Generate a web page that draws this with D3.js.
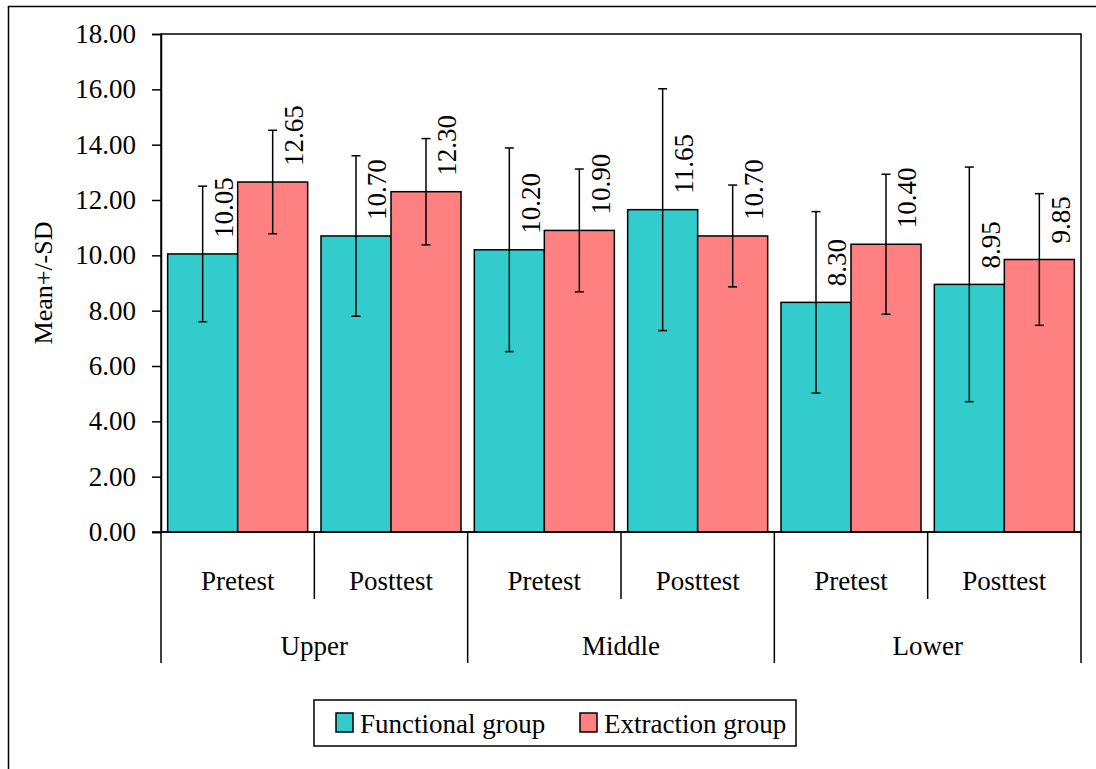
<!DOCTYPE html>
<html>
<head>
<meta charset="utf-8">
<script src="https://cdn.jsdelivr.net/npm/d3@7"></script>
<style>
  html, body { margin: 0; padding: 0; background: #fff; }
  svg { display: block; }
  svg text { font-family: "Liberation Serif", "DejaVu Serif", serif !important; fill: #000; }
</style>
</head>
<body>
<svg id="chart" width="1096" height="769"></svg>
<script>
const levels = ["Upper", "Middle", "Lower"];
const tests = ["Pretest", "Posttest"];
const seriesNames = ["Functional group", "Extraction group"];
const seriesColors = ["#33CCCC", "#FF8080"];
const functionalMean = [10.05, 10.70, 10.20, 11.65, 8.30, 8.95];
const functionalSD = [2.45, 2.90, 3.68, 4.37, 3.28, 4.24];
const extractionMean = [12.65, 12.30, 10.90, 10.70, 10.40, 9.85];
const extractionSD = [1.87, 1.92, 2.22, 1.84, 2.53, 2.38];
const yTicks = [0, 2, 4, 6, 8, 10, 12, 14, 16, 18];
const yLabel = "Mean+/-SD";

const svg = d3.select("#chart");
const plot = { left: 161, top: 34, right: 1081, bottom: 532 };
const FONT = 27;
const FF = '"Liberation Serif", "DejaVu Serif", serif';

svg.append("rect").attr("x", 8.5).attr("y", 6.5).attr("width", 1200).attr("height", 900)
  .attr("fill", "none").attr("stroke", "#000").attr("stroke-width", 1.5);

const cats = [];
levels.forEach(l => tests.forEach(t => cats.push(l + "|" + t)));

const x0 = d3.scaleBand().domain(cats).range([plot.left, plot.right]).padding(0);
const x1 = d3.scaleBand().domain(seriesNames).range([0, x0.bandwidth()]).paddingInner(0).paddingOuter(0.095);
const y = d3.scaleLinear().domain([0, 18]).range([plot.bottom, plot.top]);

svg.append("rect").attr("x", plot.left).attr("y", plot.top)
  .attr("width", plot.right - plot.left).attr("height", plot.bottom - plot.top)
  .attr("fill", "none").attr("stroke", "#000").attr("stroke-width", 1.5);

const yAxis = d3.axisLeft(y).tickValues(yTicks).tickFormat(d3.format(".2f")).tickSize(9).tickPadding(16);
const ga = svg.append("g").attr("transform", `translate(${plot.left},0)`).call(yAxis)
  .attr("font-family", FF).attr("font-size", FONT);
ga.select(".domain").attr("stroke", "#000").attr("stroke-width", 1.5);
ga.selectAll(".tick line").attr("stroke", "#000").attr("stroke-width", 1.5);
ga.selectAll(".tick text").attr("font-size", FONT).attr("font-family", FF);

svg.append("text").attr("transform", `translate(52,${(plot.top + plot.bottom) / 2}) rotate(-90)`)
  .attr("text-anchor", "middle").attr("font-size", 26).attr("font-family", FF).text(yLabel);

const seriesData = [
  { name: seriesNames[0], mean: functionalMean, sd: functionalSD, color: seriesColors[0] },
  { name: seriesNames[1], mean: extractionMean, sd: extractionSD, color: seriesColors[1] }
];
const capHalf = 4.5;
seriesData.forEach(s => {
  const g = svg.append("g");
  cats.forEach((c, i) => {
    const bx = x0(c) + x1(s.name);
    const bw = x1.bandwidth();
    const cx = bx + bw / 2;
    const v = s.mean[i], sd = s.sd[i];
    g.append("rect").attr("x", bx).attr("y", y(v)).attr("width", bw).attr("height", y(0) - y(v))
      .attr("fill", s.color).attr("stroke", "#000").attr("stroke-width", 1.5);
    g.append("line").attr("x1", cx).attr("x2", cx).attr("y1", y(v + sd)).attr("y2", y(v - sd))
      .attr("stroke", "#000").attr("stroke-width", 1.5);
    [v + sd, v - sd].forEach(e => {
      g.append("line").attr("x1", cx - capHalf).attr("x2", cx + capHalf).attr("y1", y(e)).attr("y2", y(e))
        .attr("stroke", "#000").attr("stroke-width", 1.5);
    });
  });
});
seriesData.forEach(s => {
  cats.forEach((c, i) => {
    const cx = x0(c) + x1(s.name) + x1.bandwidth() / 2;
    const v = s.mean[i];
    svg.append("text")
      .attr("transform", `translate(${cx + 21},${y(v) - 16}) rotate(-90)`)
      .attr("text-anchor", "start").attr("dy", "0.35em")
      .attr("font-size", FONT).attr("font-family", FF).text(v.toFixed(2));
  });
});

const ax = svg.append("g").attr("stroke", "#000").attr("stroke-width", 1.5);
ax.append("line").attr("x1", plot.left - 9).attr("x2", plot.right).attr("y1", plot.bottom).attr("y2", plot.bottom);
cats.forEach((c, i) => {
  const xl = x0(c);
  const outer = i % tests.length === 0;
  ax.append("line").attr("x1", xl).attr("x2", xl).attr("y1", plot.bottom).attr("y2", outer ? 663 : 599);
});
ax.append("line").attr("x1", plot.right).attr("x2", plot.right).attr("y1", plot.bottom).attr("y2", 663);

cats.forEach(c => {
  const t = c.split("|")[1];
  svg.append("text").attr("x", x0(c) + x0.bandwidth() / 2).attr("y", 590)
    .attr("text-anchor", "middle").attr("font-size", FONT).attr("font-family", FF).text(t);
});
levels.forEach(l => {
  const a = x0(l + "|" + tests[0]);
  const b = x0(l + "|" + tests[tests.length - 1]) + x0.bandwidth();
  svg.append("text").attr("x", (a + b) / 2).attr("y", 655)
    .attr("text-anchor", "middle").attr("font-size", FONT).attr("font-family", FF).text(l);
});

const lg = svg.append("g");
lg.append("rect").attr("x", 314).attr("y", 700).attr("width", 482).attr("height", 46)
  .attr("fill", "#fff").attr("stroke", "#000").attr("stroke-width", 1.5);
const legendX = [336, 580];
seriesData.forEach((s, i) => {
  lg.append("rect").attr("x", legendX[i]).attr("y", 713).attr("width", 17).attr("height", 19)
    .attr("fill", s.color).attr("stroke", "#000").attr("stroke-width", 1.5);
  lg.append("text").attr("x", legendX[i] + 24).attr("y", 733).attr("font-size", FONT).attr("font-family", FF).text(s.name);
});
</script>
</body>
</html>
